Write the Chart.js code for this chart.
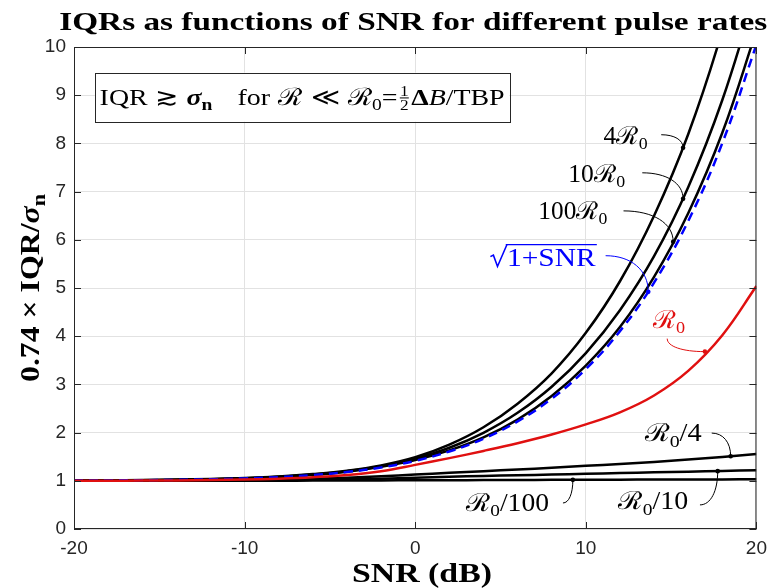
<!DOCTYPE html>
<html><head><meta charset="utf-8">
<script src="https://cdn.jsdelivr.net/npm/chart.js@4.4.1/dist/chart.umd.min.js"></script>
<style>html,body{margin:0;padding:0;background:#fff;}#wrap{width:775px;height:588px;position:relative}</style>
</head><body><div id="wrap"><canvas id="c" width="775" height="588"></canvas></div>
<script>
// ---------- data ----------
const snrDb     = [-20,-18,-16,-14,-12,-10,-8,-6,-4,-2,0,2,4,6,8,10,12,14,16,18,20];
const iqr4R0    = [1.005,1.009,1.015,1.024,1.037,1.057,1.09,1.14,1.21,1.32,1.49,1.75,2.11,2.60,3.23,4.07,5.14,6.50,8.19,10.34,13.0];
const iqr10R0   = [1.005,1.009,1.014,1.022,1.034,1.054,1.084,1.13,1.20,1.30,1.46,1.685,1.996,2.41,2.95,3.65,4.54,5.66,7.09,8.90,11.17];
const iqr100R0  = [1.005,1.008,1.013,1.021,1.032,1.051,1.079,1.123,1.19,1.29,1.43,1.63,1.90,2.27,2.76,3.39,4.19,5.23,6.55,8.22,10.34];
const iqrSqrt   = [1.005,1.008,1.0125,1.020,1.031,1.049,1.076,1.118,1.182,1.277,1.414,1.608,1.874,2.232,2.704,3.317,4.105,5.111,6.388,8.006,10.05];
const iqrR0     = [1.0,1.002,1.004,1.008,1.015,1.026,1.045,1.075,1.12,1.20,1.33,1.47,1.62,1.78,1.96,2.17,2.42,2.77,3.28,4.02,5.04];
const iqrR0d4   = [1.0,1.001,1.002,1.005,1.01,1.017,1.028,1.045,1.065,1.095,1.13,1.165,1.20,1.235,1.27,1.31,1.35,1.39,1.44,1.495,1.555];
const iqrR0d10  = [1.0,1.0,1.001,1.002,1.004,1.008,1.012,1.02,1.03,1.045,1.065,1.085,1.10,1.115,1.13,1.145,1.16,1.175,1.19,1.205,1.22];
const iqrR0d100 = [1.0,1.0,1.0,1.001,1.001,1.002,1.003,1.004,1.006,1.008,1.01,1.012,1.015,1.017,1.02,1.022,1.024,1.026,1.027,1.029,1.03];
const xTicks = [-20,-10,0,10,20];
const yTicks = [0,1,2,3,4,5,6,7,8,9,10];
const titleText = 'IQRs as functions of SNR for different pulse rates';
const xTitleText = 'SNR (dB)';

// ---------- styling ----------
const SERIF = "'Liberation Serif','DejaVu Serif',serif";
const AX = '#262626';
const BLACK = '#000000', BLUE = '#0000ff', RED = '#e01010';

// label annotations (text centre, leader start, leader end on curve), data units
const notes = [
  {segs:[{t:'4'},{t:'ℛ'},{t:'0',sub:1}], c:BLACK, tx:12.33, ty:8.16, sx:14.42, sy:8.18, ex:15.70, ey:7.91, bend:'h', w:44},
  {segs:[{t:'10'},{t:'ℛ'},{t:'0',sub:1}], c:BLACK, tx:10.64, ty:7.37, sx:13.31, sy:7.39, ex:15.70, ey:6.85, bend:'h', w:57},
  {segs:[{t:'100'},{t:'ℛ'},{t:'0',sub:1}], c:BLACK, tx:9.24, ty:6.60, sx:12.21, sy:6.60, ex:15.12, ey:5.96, bend:'h', w:69},
  {segs:[{rad:1},{t:'1+SNR',over:1}], c:BLUE, tx:7.44, ty:5.63, sx:11.16, sy:5.67, ex:13.66, ey:4.92, bend:'h', w:107},
  {segs:[{t:'ℛ'},{t:'0',sub:1}], c:RED, tx:14.88, ty:4.34, sx:14.77, sy:3.95, ex:16.98, ey:3.68, bend:'v', w:32},
  {segs:[{t:'ℛ'},{t:'0',sub:1},{t:'/4'}], c:BLACK, tx:15.12, ty:1.99, sx:17.38, sy:1.99, ex:18.49, ey:1.51, bend:'h', w:57},
  {segs:[{t:'ℛ'},{t:'0',sub:1},{t:'/10'}], c:BLACK, tx:13.95, ty:0.58, sx:16.69, sy:0.50, ex:17.73, ey:1.20, bend:'h', w:70},
  {segs:[{t:'ℛ'},{t:'0',sub:1},{t:'/100'}], c:BLACK, tx:5.41, ty:0.54, sx:8.66, sy:0.54, ex:9.24, ey:1.02, bend:'h', w:83}
];
const boxNote = {x0:-18.78, x1:5.52, y0:9.47, y1:8.45, w:405,
  segs:[{t:'IQR'},{sp:0.28},{t:'≳'},{sp:0.28},{t:'σ',st:'italic bold'},{t:'n',sub:1,st:'bold'},{sp:0.9},{t:'for'},{sp:0.3},{t:'ℛ'},{sp:0.28},{t:'≪'},{sp:0.28},{t:'ℛ'},{t:'0',sub:1},{t:'='},{frac:['1','2']},{t:'Δ',st:'bold'},{t:'B',st:'italic'},{t:'/TBP'}]};
const yTitleSegs = [{t:'0.74 × IQR/',st:'bold'},{t:'σ',st:'italic bold'},{t:'n',sub:1,st:'bold'}];

function fontStr(st,size){ return (st||'normal')+' '+size.toFixed(2)+'px '+SERIF; }
function segW(ctx,s,size){
  if(s.frac){ ctx.font=fontStr(s.st,size*0.62); return Math.max(ctx.measureText(s.frac[0]).width,ctx.measureText(s.frac[1]).width)+size*0.18; }
  if(s.rad) return size*0.62;
  if(s.sp) return s.sp*size;
  ctx.font=fontStr(s.st,s.sub?size*0.7:size); return ctx.measureText(s.t).width;
}
function drawRich(ctx,segs,x,y,size,align,color,fitW){
  const ws=segs.map(s=>segW(ctx,s,size));
  const total=ws.reduce((a,b)=>a+b,0);
  const k = fitW ? fitW/total : 1;
  ctx.save(); ctx.translate(x,y); ctx.scale(k,1);
  let cx= align==='center'? -total/2 : (align==='right'? -total : 0);
  const yb=0;
  ctx.textAlign='left'; ctx.textBaseline='alphabetic';
  segs.forEach((s,i)=>{
    const c=s.color||color; ctx.fillStyle=c; ctx.strokeStyle=c;
    if(s.frac){
      const fs=size*0.62; ctx.font=fontStr(s.st,fs); const w=ws[i]; const mid=yb-size*0.3;
      ctx.lineWidth=1; ctx.beginPath(); ctx.moveTo(cx+2,mid); ctx.lineTo(cx+w-2,mid); ctx.stroke();
      ctx.textAlign='center'; ctx.fillText(s.frac[0],cx+w/2,mid-2); ctx.fillText(s.frac[1],cx+w/2,mid+fs*0.78); ctx.textAlign='left';
    } else if(s.rad){
      const w=ws[i]; ctx.lineWidth=Math.max(1.2,size*0.055); ctx.lineJoin='miter';
      ctx.beginPath(); ctx.moveTo(cx+size*0.06,yb-size*0.36); ctx.lineTo(cx+size*0.16,yb-size*0.42);
      ctx.lineTo(cx+size*0.30,yb+size*0.03); ctx.lineTo(cx+w,yb-size*0.84); ctx.stroke();
    } else if(!s.sp){
      const fs=s.sub?size*0.7:size; ctx.font=fontStr(s.st,fs);
      ctx.fillText(s.t,cx,s.sub?yb+size*0.22:yb);
      if(s.over){ ctx.lineWidth=Math.max(1.2,size*0.055); ctx.beginPath(); ctx.moveTo(cx-1,yb-size*0.84); ctx.lineTo(cx+ws[i]+1,yb-size*0.84); ctx.stroke(); }
    }
    cx+=ws[i];
  });
  ctx.restore();
  return total*k;
}

const decor = {
  id:'decor',
  afterDraw(chart){
    const ctx=chart.ctx, a=chart.chartArea, xs=chart.scales.x, ys=chart.scales.y;
    ctx.save();
    // box and inward ticks
    ctx.strokeStyle=AX; ctx.lineWidth=1;
    ctx.strokeRect(a.left+0.5,a.top+0.5,a.right-a.left-1,a.bottom-a.top-1);
    ctx.beginPath();
    xTicks.forEach(v=>{const p=Math.round(xs.getPixelForValue(v))+0.5; ctx.moveTo(p,a.bottom); ctx.lineTo(p,a.bottom-7); ctx.moveTo(p,a.top); ctx.lineTo(p,a.top+7);});
    yTicks.forEach(v=>{const p=Math.round(ys.getPixelForValue(v))+0.5; ctx.moveTo(a.left,p); ctx.lineTo(a.left+7,p); ctx.moveTo(a.right,p); ctx.lineTo(a.right-7,p);});
    ctx.stroke();
    // title
    ctx.fillStyle='#000'; ctx.font='bold 25px '+SERIF; ctx.textBaseline='alphabetic'; ctx.textAlign='center';
    const tw=ctx.measureText(titleText).width, cxT=(a.left+a.right)/2-2;
    ctx.save(); ctx.translate(cxT,30); ctx.scale(708/tw,1); ctx.fillText(titleText,0,0); ctx.restore();
    // x title
    ctx.font='bold 27px '+SERIF; ctx.textAlign='center';
    const xw=ctx.measureText(xTitleText).width;
    ctx.save(); ctx.translate(422,582); ctx.scale(140/xw,1); ctx.fillText(xTitleText,0,0); ctx.restore();
    // y title
    ctx.save(); ctx.translate(31,(a.top+a.bottom)/2); ctx.rotate(-Math.PI/2); drawRich(ctx,yTitleSegs,0,8,27,'center','#000',188); ctx.restore();
    // text box
    const bx0=xs.getPixelForValue(boxNote.x0), bx1=xs.getPixelForValue(boxNote.x1), by0=ys.getPixelForValue(boxNote.y0), by1=ys.getPixelForValue(boxNote.y1);
    ctx.fillStyle='#fff'; ctx.fillRect(bx0,by0,bx1-bx0,by1-by0);
    ctx.strokeStyle=AX; ctx.lineWidth=1; ctx.strokeRect(Math.round(bx0)+0.5,Math.round(by0)+0.5,Math.round(bx1-bx0),Math.round(by1-by0));
    drawRich(ctx,boxNote.segs,(bx0+bx1)/2,(by0+by1)/2+8,24,'center','#000',boxNote.w);
    // annotations
    notes.forEach(n=>{
      const sx=xs.getPixelForValue(n.sx), sy=ys.getPixelForValue(n.sy), ex=xs.getPixelForValue(n.ex), ey=ys.getPixelForValue(n.ey);
      ctx.strokeStyle=n.c; ctx.fillStyle=n.c; ctx.lineWidth=1;
      ctx.beginPath(); ctx.moveTo(sx,sy);
      if(n.bend==='h') ctx.bezierCurveTo(sx+0.6*(ex-sx),sy, ex,sy+0.4*(ey-sy), ex,ey);
      else ctx.bezierCurveTo(sx,sy+0.6*(ey-sy), sx+0.4*(ex-sx),ey, ex,ey);
      ctx.stroke();
      ctx.beginPath(); ctx.arc(ex,ey,2.3,0,Math.PI*2); ctx.fill();
      const tx=xs.getPixelForValue(n.tx), ty=ys.getPixelForValue(n.ty);
      drawRich(ctx,n.segs,tx,ty+8,25,'center',n.c,n.w);
    });
    ctx.restore();
  }
};

function pts(arr){ return snrDb.map((x,i)=>({x:x,y:arr[i]})); }
function ds(label,arr,color,extra){ return Object.assign({label:label,data:pts(arr),borderColor:color,backgroundColor:color,borderWidth:2.5,pointRadius:0,fill:false,tension:0.4},extra||{}); }

new Chart(document.getElementById('c'),{
  type:'line',
  data:{datasets:[
    ds('R0',iqrR0,RED),
    ds('sqrt(1+SNR)',iqrSqrt,BLUE,{borderDash:[9,6]}),
    ds('100R0',iqr100R0,BLACK),
    ds('10R0',iqr10R0,BLACK),
    ds('4R0',iqr4R0,BLACK),
    ds('R0/4',iqrR0d4,BLACK),
    ds('R0/10',iqrR0d10,BLACK),
    ds('R0/100',iqrR0d100,BLACK)
  ]},
  options:{
    responsive:false, animation:false, devicePixelRatio:1,
    layout:{padding:{left:0,right:13,top:47,bottom:0}},
    plugins:{legend:{display:false},title:{display:false},tooltip:{enabled:false}},
    scales:{
      x:{type:'linear',min:-20,max:20,
        afterBuildTicks:s=>{s.ticks=xTicks.map(v=>({value:v}));},
        afterFit:s=>{s.height=59;},
        grid:{color:'#e2e2e2',lineWidth:1,drawTicks:false},border:{display:false},
        ticks:{color:AX,font:{family:"'Liberation Sans',Arial,sans-serif",size:19},padding:8,maxRotation:0,autoSkip:false,callback:v=>String(v)}},
      y:{type:'linear',min:0,max:10,
        afterBuildTicks:s=>{s.ticks=yTicks.map(v=>({value:v}));},
        afterFit:s=>{s.width=74;},
        grid:{color:'#e2e2e2',lineWidth:1,drawTicks:false},border:{display:false},
        ticks:{color:AX,font:{family:"'Liberation Sans',Arial,sans-serif",size:19},padding:8,autoSkip:false,callback:v=>String(v)}}
    }
  },
  plugins:[decor]
});
</script></body></html>
